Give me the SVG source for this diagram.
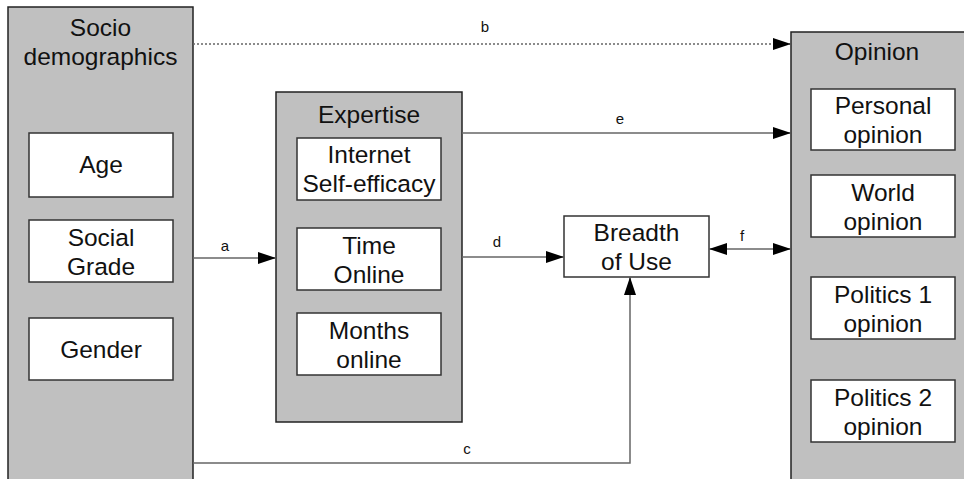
<svg xmlns="http://www.w3.org/2000/svg" width="964" height="479" viewBox="0 0 964 479">
  <style>
    .group { fill: #c0c0c0; stroke: #222; stroke-width: 1.5; }
    .item { fill: #fff; stroke: #333; stroke-width: 1.5; }
    .txt { font-family: "Liberation Sans", Arial, sans-serif; font-size: 24.5px; fill: #111; text-anchor: middle; }
    .lbl { font-family: "Liberation Sans", Arial, sans-serif; font-size: 15px; fill: #111; text-anchor: middle; }
    .link { fill: none; stroke: #666; stroke-width: 1.5; }
    .dotted { stroke-dasharray: 2 2; }
  </style>
  <defs>
    <marker id="arrowEnd" markerUnits="userSpaceOnUse" markerWidth="18" markerHeight="12" refX="18" refY="6" orient="auto">
      <path d="M0,0 L18,6 L0,12 Z" fill="#000"/>
    </marker>
    <marker id="arrowStart" markerUnits="userSpaceOnUse" markerWidth="18" markerHeight="12" refX="0" refY="6" orient="auto">
      <path d="M18,0 L0,6 L18,12 Z" fill="#000"/>
    </marker>
  </defs>
  <rect width="964" height="479" fill="#fff"/>

  <!-- Socio-demographics group -->
  <g id="socio">
    <rect class="group" x="8" y="7" width="185" height="480"/>
    <text class="txt" x="100.5" y="36">Socio</text>
    <text class="txt" x="100.5" y="65">demographics</text>
    <g id="age">
      <rect class="item" x="29" y="133" width="144" height="64"/>
      <text class="txt" x="101" y="173">Age</text>
    </g>
    <g id="social-grade">
      <rect class="item" x="29" y="220" width="144" height="62"/>
      <text class="txt" x="101" y="246">Social</text>
      <text class="txt" x="101" y="275">Grade</text>
    </g>
    <g id="gender">
      <rect class="item" x="29" y="318" width="144" height="62"/>
      <text class="txt" x="101" y="358">Gender</text>
    </g>
  </g>

  <!-- Expertise group -->
  <g id="expertise">
    <rect class="group" x="276" y="92" width="186" height="330"/>
    <text class="txt" x="369" y="123">Expertise</text>
    <g id="self-efficacy">
      <rect class="item" x="297" y="138" width="144" height="62"/>
      <text class="txt" x="369" y="163">Internet</text>
      <text class="txt" x="369" y="192">Self-efficacy</text>
    </g>
    <g id="time-online">
      <rect class="item" x="297" y="228" width="144" height="62"/>
      <text class="txt" x="369" y="253.5">Time</text>
      <text class="txt" x="369" y="282.5">Online</text>
    </g>
    <g id="months-online">
      <rect class="item" x="297" y="313" width="144" height="62"/>
      <text class="txt" x="369" y="338.5">Months</text>
      <text class="txt" x="369" y="367.5">online</text>
    </g>
  </g>

  <!-- Breadth of use -->
  <g id="breadth">
    <rect class="item" x="564" y="216" width="145" height="61"/>
    <text class="txt" x="636.5" y="241">Breadth</text>
    <text class="txt" x="636.5" y="270">of Use</text>
  </g>

  <!-- Opinion group -->
  <g id="opinion">
    <rect class="group" x="791" y="32" width="180" height="460"/>
    <text class="txt" x="877" y="60">Opinion</text>
    <g id="personal-opinion">
      <rect class="item" x="811" y="89" width="144" height="61"/>
      <text class="txt" x="883" y="114">Personal</text>
      <text class="txt" x="883" y="143">opinion</text>
    </g>
    <g id="world-opinion">
      <rect class="item" x="811" y="175" width="144" height="62"/>
      <text class="txt" x="883" y="200.5">World</text>
      <text class="txt" x="883" y="229.5">opinion</text>
    </g>
    <g id="politics1-opinion">
      <rect class="item" x="811" y="277" width="144" height="62"/>
      <text class="txt" x="883" y="302.5">Politics 1</text>
      <text class="txt" x="883" y="331.5">opinion</text>
    </g>
    <g id="politics2-opinion">
      <rect class="item" x="811" y="380" width="144" height="62"/>
      <text class="txt" x="883" y="405.5">Politics 2</text>
      <text class="txt" x="883" y="434.5">opinion</text>
    </g>
  </g>

  <!-- Connectors -->
  <g id="connectors">
    <path class="link dotted" d="M193,44 H791" marker-end="url(#arrowEnd)"/>
    <text class="lbl" x="485" y="32">b</text>

    <path class="link" d="M462,133 H791" marker-end="url(#arrowEnd)"/>
    <text class="lbl" x="620" y="124">e</text>

    <path class="link" d="M193,258 H276" marker-end="url(#arrowEnd)"/>
    <text class="lbl" x="225" y="251">a</text>

    <path class="link" d="M462,257 H564" marker-end="url(#arrowEnd)"/>
    <text class="lbl" x="497" y="247">d</text>

    <path class="link" d="M709,249 H791" marker-start="url(#arrowStart)" marker-end="url(#arrowEnd)"/>
    <text class="lbl" x="742" y="241">f</text>

    <path class="link" d="M193,463 H630 V277" marker-end="url(#arrowEnd)"/>
    <text class="lbl" x="467" y="454">c</text>
  </g>
</svg>
